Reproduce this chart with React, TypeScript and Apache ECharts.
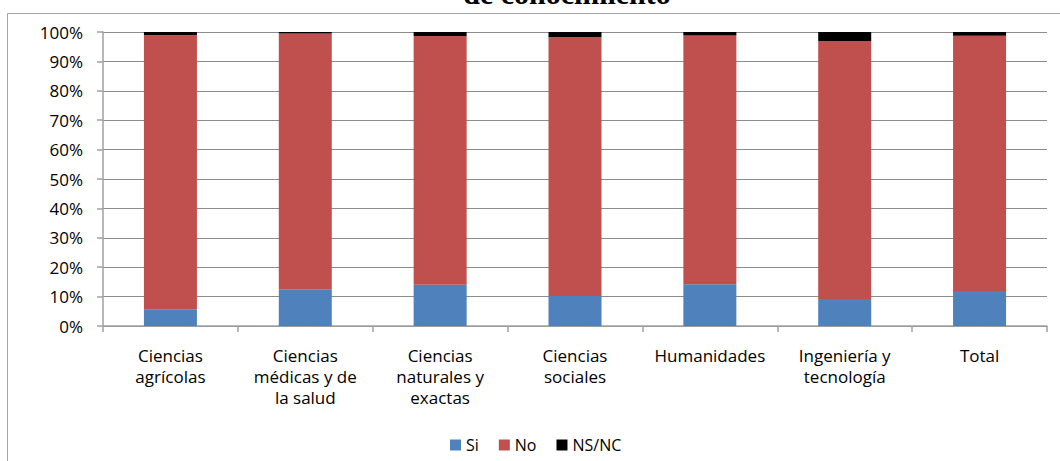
import React, { useEffect, useRef } from "react";
import * as echarts from "echarts";

const categories = [
  "Ciencias\nagrícolas",
  "Ciencias\nmédicas y de\nla salud",
  "Ciencias\nnaturales y\nexactas",
  "Ciencias\nsociales",
  "Humanidades",
  "Ingeniería y\ntecnología",
  "Total",
];
const siValues = [5.7, 12.5, 14.0, 10.2, 14.2, 9.2, 11.9];
const noValues = [93.3, 87.0, 84.6, 88.1, 84.6, 87.7, 86.8];
const nsValues = [1.0, 0.5, 1.4, 1.7, 1.2, 3.1, 1.3];
const yTicks = [0, 10, 20, 30, 40, 50, 60, 70, 80, 90, 100];

const FONT = "'Open Sans', 'Liberation Sans', sans-serif";

export default function App() {
  const ref = useRef<HTMLDivElement>(null);
  useEffect(() => {
    if (!ref.current) return;
    const chart = echarts.init(ref.current, null, { renderer: "svg" });
    chart.setOption({
      animation: false,
      graphic: [
        {
          type: "rect",
          shape: { x: 7.5, y: 13.5, width: 1200, height: 600 },
          style: { fill: "none", stroke: "#a6a6a6", lineWidth: 1 },
          z: 0,
        },
        {
          type: "text",
          x: 567,
          y: 8,
          style: {
            text: "de conocimiento",
            font: "bold 30px 'Liberation Serif', serif",
            fill: "#000",
            align: "center",
            verticalAlign: "bottom",
          },
        },
      ],
      grid: { left: 103, right: 13, top: 32, bottom: 135, containLabel: false },
      legend: {
        top: 432,
        left: 445,
        itemWidth: 11,
        itemHeight: 11,
        itemGap: 20,
        icon: "rect",
        textStyle: { fontFamily: FONT, fontSize: 16, color: "#000" },
        data: ["Si", "No", "NS/NC"],
      },
      xAxis: {
        type: "category",
        data: categories,
        axisLine: { lineStyle: { color: "#a0a0a0", width: 1.5 } },
        axisTick: { show: true, length: 6, lineStyle: { color: "#a0a0a0", width: 1.5 } },
        axisLabel: {
          fontFamily: FONT,
          fontSize: 17,
          color: "#000",
          lineHeight: 21,
          margin: 19,
          interval: 0,
        },
      },
      yAxis: {
        type: "value",
        min: 0,
        max: 100,
        interval: 10,
        axisLine: { show: true, lineStyle: { color: "#a0a0a0", width: 1.5 } },
        axisTick: { show: true, length: 6, lineStyle: { color: "#a0a0a0", width: 1.5 } },
        splitLine: { lineStyle: { color: "#8c8c8c", width: 1 } },
        axisLabel: {
          fontFamily: FONT,
          fontSize: 17,
          color: "#000",
          margin: 20,
          formatter: (v: number) => (yTicks.includes(v) ? v + "%" : ""),
        },
      },
      series: [
        {
          name: "Si",
          type: "bar",
          stack: "total",
          data: siValues,
          barWidth: 53,
          itemStyle: { color: "#4F81BD" },
        },
        {
          name: "No",
          type: "bar",
          stack: "total",
          data: noValues,
          barWidth: 53,
          itemStyle: { color: "#C0504D" },
        },
        {
          name: "NS/NC",
          type: "bar",
          stack: "total",
          data: nsValues,
          barWidth: 53,
          itemStyle: { color: "#000000" },
        },
      ],
    });
    return () => chart.dispose();
  }, []);
  return (
    <div
      ref={ref}
      style={{ position: "absolute", left: 0, top: 0, width: 1060, height: 461 }}
    />
  );
}
